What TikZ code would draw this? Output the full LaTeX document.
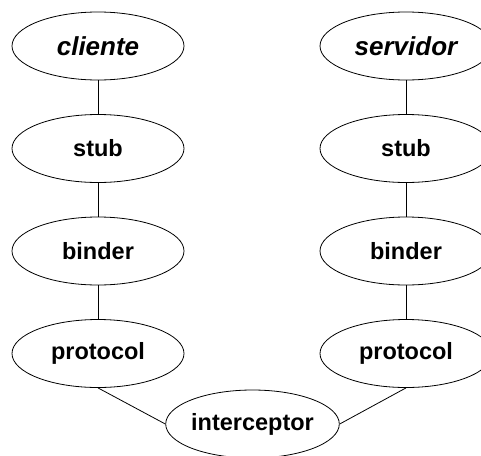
\documentclass[tikz,border=0pt]{standalone}
\usepackage{fontspec}
\setmainfont{Liberation Sans}
\usetikzlibrary{shapes.geometric}
\begin{document}
\begin{tikzpicture}[x=1pt,y=1pt,
  el/.style={draw, line width=0.8pt, ellipse, minimum width=172pt, minimum height=68pt, inner sep=0pt,
    font=\fontsize{23.5}{28}\selectfont\bfseries},
  it/.style={font=\fontsize{26}{30}\selectfont\bfseries\itshape},
  ln/.style={line width=0.8pt}]
\useasboundingbox (0,0) rectangle (481,-455);
\begin{scope}
\clip (0,0) rectangle (481,-455);
\node[el,it] (cl) at (98,-46) {cliente};
\node[el] (s1) at (98,-148.5) {stub};
\node[el] (b1) at (98,-251) {binder};
\node[el] (p1) at (98,-353.5) {protocol};
\node[el,it] (sv) at (406,-46) {servidor};
\node[el] (s2) at (406,-148.5) {stub};
\node[el] (b2) at (406,-251) {binder};
\node[el] (p2) at (406,-353.5) {protocol};
\node[el] (ic) at (252.5,-424) {interceptor};
\draw[ln] (cl.south) -- (s1.north);
\draw[ln] (s1.south) -- (b1.north);
\draw[ln] (b1.south) -- (p1.north);
\draw[ln] (sv.south) -- (s2.north);
\draw[ln] (s2.south) -- (b2.north);
\draw[ln] (b2.south) -- (p2.north);
\draw[ln] (p1.south) -- (ic.west);
\draw[ln] (p2.south) -- (ic.east);
\end{scope}
\end{tikzpicture}
\end{document}
